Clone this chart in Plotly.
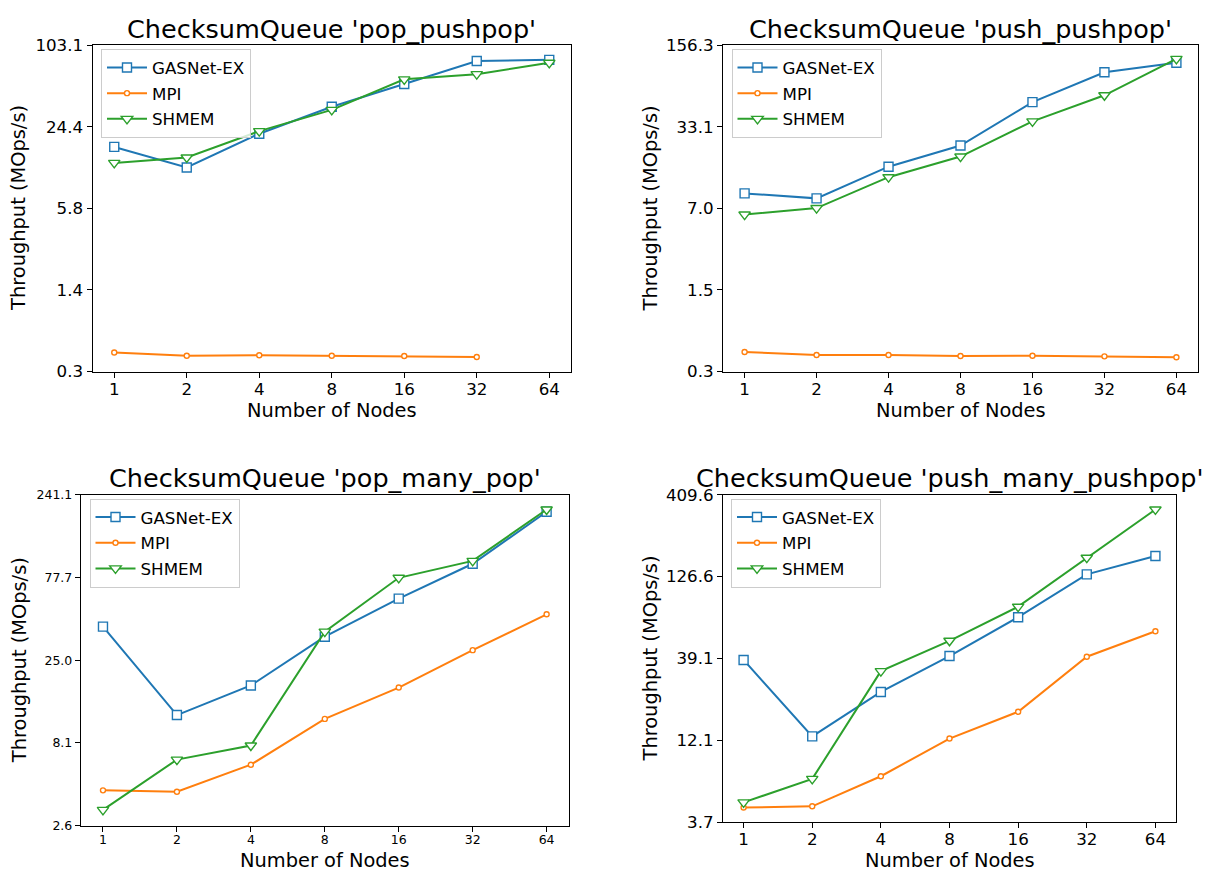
import math
import plotly.graph_objects as go

W, H = 1217, 881

# Node counts on the x axis
nodes = [1, 2, 4, 8, 16, 32, 64]
node_labels = ["1", "2", "4", "8", "16", "32", "64"]

series_names = ["GASNet-EX", "MPI", "SHMEM"]

# Throughput (MOps/s) per benchmark
pop_pushpop_gasnet = [17.1, 11.9, 21.6, 34.8, 52.0, 77.9, 79.6]
pop_pushpop_mpi = [0.453, 0.428, 0.432, 0.428, 0.426, 0.419, None]
pop_pushpop_shmem = [12.9, 14.2, 22.6, 32.9, 56.4, 61.8, 75.5]

push_pushpop_gasnet = [9.33, 8.49, 15.5, 23.2, 52.9, 93.4, 111.9]
push_pushpop_mpi = [0.457, 0.432, 0.432, 0.424, 0.426, 0.421, 0.414]
push_pushpop_shmem = [6.24, 7.06, 12.7, 18.8, 36.7, 60.3, 120.5]

pop_many_pop_gasnet = [39.6, 11.8, 17.7, 34.5, 58.1, 93.7, 191.0]
pop_many_pop_mpi = [4.21, 4.13, 5.98, 11.2, 17.2, 28.7, 46.9]
pop_many_pop_shmem = [3.22, 6.41, 7.78, 37.0, 77.3, 97.5, 197.0]

push_many_pushpop_gasnet = [38.3, 12.8, 24.2, 40.5, 70.7, 130.7, 170.0]
push_many_pushpop_mpi = [4.61, 4.69, 7.22, 12.4, 18.2, 40.1, 57.8]
push_many_pushpop_shmem = [4.96, 6.95, 32.6, 50.4, 82.2, 166.0, 331.7]

titles = [
    "ChecksumQueue 'pop_pushpop'",
    "ChecksumQueue 'push_pushpop'",
    "ChecksumQueue 'pop_many_pop'",
    "ChecksumQueue 'push_many_pushpop'",
]

# y-axis limits and the five log-spaced tick labels of each panel
y_bottom = [0.3236, 0.3149, 2.599, 3.738]
y_top = [103.1, 156.3, 241.1, 409.6]
y_tick_labels = [
    ["0.3", "1.4", "5.8", "24.4", "103.1"],
    ["0.3", "1.5", "7.0", "33.1", "156.3"],
    ["2.6", "8.1", "25.0", "77.7", "241.1"],
    ["3.7", "12.1", "39.1", "126.6", "409.6"],
]

panel_data = [
    [pop_pushpop_gasnet, pop_pushpop_mpi, pop_pushpop_shmem],
    [push_pushpop_gasnet, push_pushpop_mpi, push_pushpop_shmem],
    [pop_many_pop_gasnet, pop_many_pop_mpi, pop_many_pop_shmem],
    [push_many_pushpop_gasnet, push_many_pushpop_mpi, push_many_pushpop_shmem],
]

# Axes boxes in pixels: left, right, top, bottom
boxes = [
    (92.5, 571.0, 36.0, 370.0),
    (723.0, 1198.0, 36.0, 370.0),
    (80.8, 568.8, 496.0, 834.5),
    (723.0, 1176.0, 496.0, 831.0),
]
tick_font_sizes = [16.7, 16.7, 12.5, 16.7]
legend_pos = [(101, 40), (731.5, 40), (89.5, 500), (731, 500)]
ytitle_x = [18.5, 650, 19, 650]
xtitle_y = [410, 410, 870, 870]

colors = ["#1f77b4", "#ff7f0e", "#2ca02c"]
symbols = ["square", "circle", "triangle-down"]
msizes = [9, 5, 10]

FONT = "DejaVu Sans"

fig = go.Figure()
annotations = []
layout = dict(
    width=W,
    height=H,
    margin=dict(l=0, r=0, t=0, b=0),
    paper_bgcolor="white",
    plot_bgcolor="white",
    font=dict(family=FONT, color="black"),
    showlegend=True,
)

x_lo = math.log10(2 ** -0.3)
x_hi = math.log10(2 ** 6.3)

for p in range(4):
    left, right, top, bottom = boxes[p]
    sfx = "" if p == 0 else str(p + 1)
    xa, ya = "x" + sfx, "y" + sfx
    leg = "legend" + sfx

    for s in range(3):
        fig.add_trace(
            go.Scatter(
                x=nodes,
                y=panel_data[p][s],
                name=series_names[s],
                mode="lines+markers",
                line=dict(color=colors[s], width=2),
                marker=dict(
                    symbol=symbols[s],
                    size=msizes[s],
                    color="white",
                    line=dict(color=colors[s], width=1.4),
                ),
                xaxis=xa,
                yaxis=ya,
                legend=leg,
                legendgroup=f"p{p}s{s}",
            )
        )

    lo, hi = math.log10(y_bottom[p]), math.log10(y_top[p])
    tickvals = [10 ** (lo + (hi - lo) * k / 4) for k in range(5)]
    tf = dict(family=FONT, size=tick_font_sizes[p], color="black")

    common = dict(
        ticks="outside",
        ticklen=5,
        tickwidth=1,
        tickcolor="black",
        showline=True,
        linecolor="black",
        linewidth=1,
        mirror=True,
        showgrid=False,
        zeroline=False,
        tickfont=tf,
    )
    layout["xaxis" + sfx] = dict(
        domain=[left / W, right / W],
        anchor=ya,
        type="log",
        range=[x_lo, x_hi],
        tickvals=nodes,
        ticktext=node_labels,
        ticklabelstandoff=-3,
        **common,
    )
    layout["yaxis" + sfx] = dict(
        domain=[1 - bottom / H, 1 - top / H],
        anchor=xa,
        type="log",
        range=[lo, hi],
        tickvals=tickvals,
        ticktext=y_tick_labels[p],
        **common,
    )
    lx, ly = legend_pos[p]
    layout[leg] = dict(
        x=lx / W,
        y=1 - ly / H,
        xanchor="left",
        yanchor="top",
        bgcolor="rgba(255,255,255,0.8)",
        bordercolor="#cccccc",
        borderwidth=1,
        font=dict(family=FONT, size=16.7, color="black"),
        itemwidth=40,
        tracegroupgap=1,
    )

    cx = (left + right) / 2
    cy = (top + bottom) / 2
    # panel title
    annotations.append(dict(
        text=titles[p], x=cx / W, y=1 - (top - 17) / H,
        xref="paper", yref="paper", xanchor="center", yanchor="middle",
        showarrow=False, font=dict(family=FONT, size=25.5, color="black"),
    ))
    # x-axis title
    annotations.append(dict(
        text="Number of Nodes", x=cx / W, y=1 - xtitle_y[p] / H,
        xref="paper", yref="paper", xanchor="center", yanchor="middle",
        showarrow=False, font=dict(family=FONT, size=19.4, color="black"),
    ))
    # y-axis title
    annotations.append(dict(
        text="Throughput (MOps/s)", x=ytitle_x[p] / W, y=1 - cy / H,
        xref="paper", yref="paper", xanchor="center", yanchor="middle",
        textangle=-90, showarrow=False,
        font=dict(family=FONT, size=19.4, color="black"),
    ))

layout["annotations"] = annotations
fig.update_layout(**layout)
fig.write_html("out.html")
